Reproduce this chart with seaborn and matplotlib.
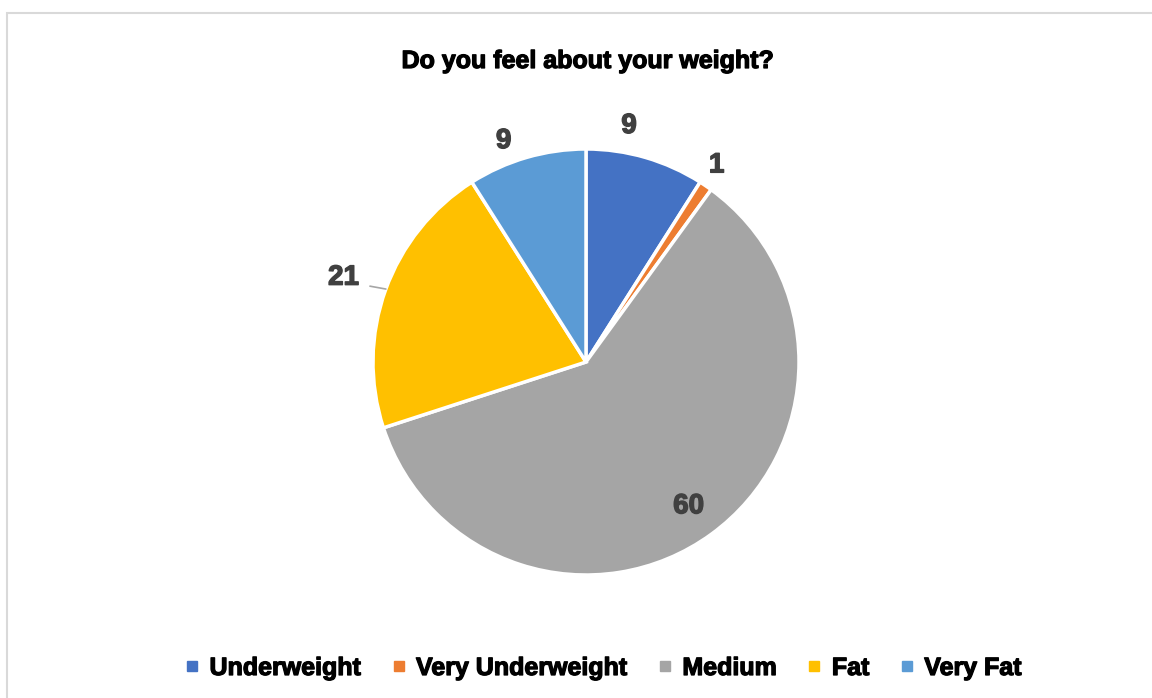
import numpy as np
import matplotlib
matplotlib.use("Agg")
import matplotlib.pyplot as plt
import matplotlib.patheffects as pe
import seaborn as sns
from matplotlib.patches import Rectangle
from matplotlib.lines import Line2D

categories = ["Underweight", "Very Underweight", "Medium", "Fat", "Very Fat"]
values = [9, 1, 60, 21, 9]
colors = ["#4472C4", "#ED7D31", "#A5A5A5", "#FFC000", "#5B9BD5"]
title = "Do you feel about your weight?"

sns.set_theme(style="white")
plt.rcParams["font.family"] = ["Liberation Sans", "DejaVu Sans"]

W, H = 1152, 698
fig = plt.figure(figsize=(W / 100, H / 100), dpi=100)
ax = fig.add_axes([0, 0, 1, 1])

# chart border
ax.add_patch(Rectangle((7, -10), W + 20, H - 13 + 10, fill=False,
                       edgecolor="#D9D9D9", linewidth=1.5))

cx, cy, R = 586, H - 362, 213
wedges, _ = ax.pie(values, colors=colors, startangle=90, counterclock=False,
                   center=(cx, cy), radius=R, frame=True,
                   wedgeprops=dict(edgecolor="white", linewidth=2.5))
ax.set_xlim(0, W)
ax.set_ylim(0, H)
ax.set_aspect("equal")
ax.axis("off")

def heavy(col, lw=1.0):
    return [pe.withStroke(linewidth=lw, foreground=col)]

label_dist = [1.14, 1.12, 0.82, 1.21, 1.12]
label_nudge = [6, 1, 0, 0, 4]
for w, v, d, n in zip(wedges, values, label_dist, label_nudge):
    mid = np.deg2rad((w.theta1 + w.theta2) / 2 + n)
    x = cx + d * R * np.cos(mid)
    y = cy + d * R * np.sin(mid) - 3
    ax.text(x, y, str(v), ha="center", va="center", fontsize=20,
            fontweight="bold", color="#404040", path_effects=heavy("#404040"))

# leader line for Fat label
fat = wedges[3]
m = np.deg2rad((fat.theta1 + fat.theta2) / 2)
ax.plot([cx + 1.075 * R * np.cos(m + 0.008), cx + 1.0 * R * np.cos(m - 0.004)],
        [cy + 1.075 * R * np.sin(m + 0.008), cy + 1.0 * R * np.sin(m - 0.004)],
        color="#A6A6A6", linewidth=1.2)

fig.text(588 / W, 1 - 61 / H, title, ha="center", va="center",
         fontsize=18, fontweight="bold", color="black",
         path_effects=heavy("black", 0.9))

handles = [Line2D([], [], marker="s", linestyle="none", markersize=7.5,
                  markerfacecolor=c, markeredgecolor=c) for c in colors]
leg = fig.legend(handles, categories, loc="center", bbox_to_anchor=(603 / W, 30 / H),
                 ncol=5, frameon=False, handlelength=0.6, handletextpad=0.4,
                 columnspacing=1.2, prop=dict(size=18, weight="bold"),
                 labelcolor="black")
for t in leg.get_texts():
    t.set_path_effects(heavy("black", 0.9))

fig.savefig("out.png", dpi=100)
